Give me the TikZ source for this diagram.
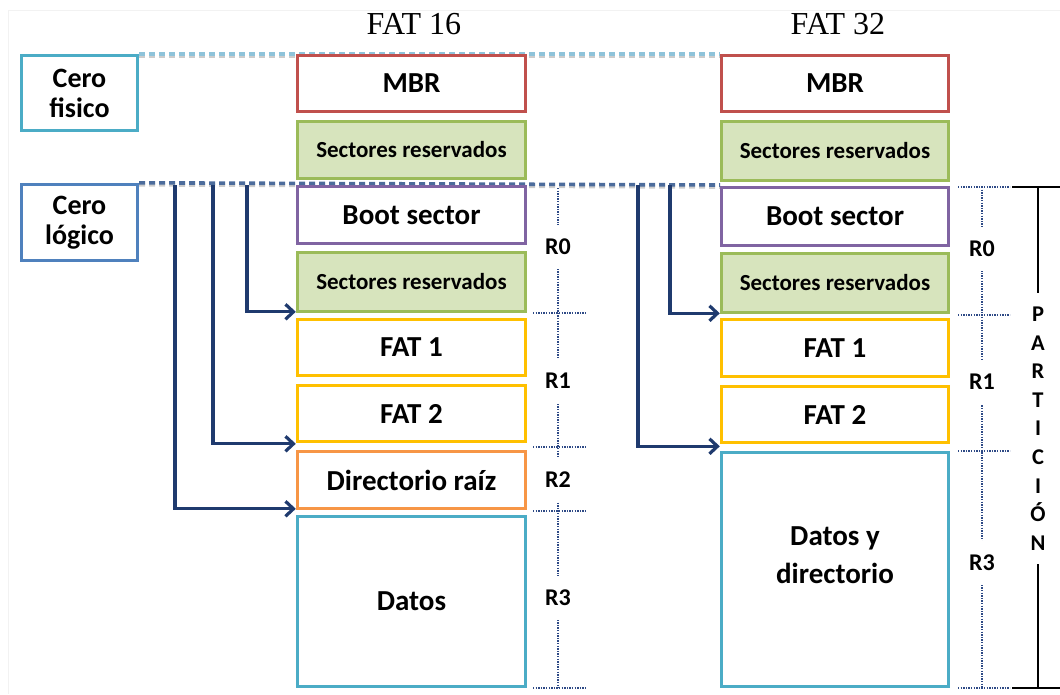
\documentclass[tikz,border=0pt]{standalone}
\usepackage{fontspec}
\setmainfont{Carlito}
\newfontfamily\titlefont{Liberation Serif}
\usetikzlibrary{arrows.meta,calc}
\definecolor{mbrred}{HTML}{C0504D}
\definecolor{resgreen}{HTML}{9BBB59}
\definecolor{resfill}{HTML}{D7E4BD}
\definecolor{bootpurple}{HTML}{8064A2}
\definecolor{fatyellow}{HTML}{FFC000}
\definecolor{dirorange}{HTML}{F79646}
\definecolor{datateal}{HTML}{4BACC6}
\definecolor{logblue}{HTML}{4F81BD}
\definecolor{navy}{HTML}{1F3A6E}
\definecolor{rnavy}{HTML}{2E4A86}
\definecolor{dashlight}{HTML}{8EC3DA}
\definecolor{dashdark}{HTML}{4C6C9C}
\begin{document}
\begin{tikzpicture}[x=1pt,y=-1pt,
  blk/.style={draw, line width=3.4pt, fill=white, inner sep=0pt, text=black,
    font=\bfseries\fontsize{29}{31}\selectfont},
  resblk/.style={blk, draw=resgreen, fill=resfill, font=\bfseries\fontsize{23}{25}\selectfont},
  colA/.style={minimum width=228pt},
  colB/.style={minimum width=227pt},
  zerobox/.style={draw, line width=3.4pt, fill=white, minimum width=116pt, minimum height=75pt,
    align=center, inner sep=0pt, font=\bfseries\fontsize{28}{30}\selectfont},
  headtext/.style={font=\titlefont\fontsize{32}{34}\selectfont},
  guide/.style={line width=3.6pt, dash pattern=on 6pt off 4pt,
    preaction={draw=black!20, line width=3.6pt, dash pattern=on 6pt off 4pt, transform canvas={yshift=-2pt}}},
  arr/.style={draw=navy, line width=3.2pt, -{Straight Barb[length=8pt,width=15pt]}},
  rline/.style={draw=rnavy, line width=2.2pt, dash pattern=on 1.4pt off 1.2pt},
  rlab/.style={fill=white, inner xsep=2pt, inner ysep=0pt, minimum height=44pt,
    font=\bfseries\fontsize{24}{26}\selectfont},
  partlab/.style={align=center, inner xsep=2pt, inner ysep=14pt,
    font=\bfseries\fontsize{22.5}{28.6}\selectfont}]
\useasboundingbox (0,0) rectangle (1060,694);

% faint page frame
\draw[black!5, line width=1pt] (8,694) -- (8,10) -- (1060,10);

% column headings
\node[headtext] (h16) at (414,24) {FAT 16};
\node[headtext] (h32) at (838,24) {FAT 32};

% reference zero points
\node[zerobox, draw=datateal] (cf) at (79.5,93) {Cero\\fisico};
\node[zerobox, draw=logblue, minimum height=76pt] (cl) at (79.5,222.5) {Cero\\lógico};

% guide lines from the zero points
\draw[guide, draw=dashlight] (cf.north east) -- (cf.north east -| 720,0);
\coordinate (clend) at (720,185);
\draw[guide, draw=dashdark] (cl.north east) -- (clend);

% FAT 16 layout
\node[blk, colA, draw=mbrred, minimum height=56pt] (mbrA) at (411.5,83.5) {MBR};
\node[resblk, colA, minimum height=57pt] (resA1) at (411.5,150) {Sectores reservados};
\node[blk, colA, draw=bootpurple, minimum height=57pt] (bootA) at (411.5,215) {Boot sector};
\node[resblk, colA, minimum height=59pt] (resA2) at (411.5,282) {Sectores reservados};
\node[blk, colA, draw=fatyellow, minimum height=56pt] (fat1A) at (411.5,347.5) {FAT 1};
\node[blk, colA, draw=fatyellow, minimum height=56pt] (fat2A) at (411.5,413.5) {FAT 2};
\node[blk, colA, draw=dirorange, minimum height=57pt] (dirA) at (411.5,480) {Directorio raíz};
\node[blk, colA, draw=datateal, minimum height=170pt] (datA) at (411.5,601.5) {Datos};

% FAT 32 layout
\node[blk, colB, draw=mbrred, minimum height=56pt] (mbrB) at (835,83.5) {MBR};
\node[resblk, colB, minimum height=59pt] (resB1) at (835,151) {Sectores reservados};
\node[blk, colB, draw=bootpurple, minimum height=58pt] (bootB) at (835,216.5) {Boot sector};
\node[resblk, colB, minimum height=59pt] (resB2) at (835,283) {Sectores reservados};
\node[blk, colB, draw=fatyellow, minimum height=57pt] (fat1B) at (835,348) {FAT 1};
\node[blk, colB, draw=fatyellow, minimum height=56pt] (fat2B) at (835,414.5) {FAT 2};
\node[blk, colB, draw=datateal, minimum height=234pt] (datB) at (835,569.5) {};
\node[align=center, font=\bfseries\fontsize{29}{38}\selectfont] (datBtxt) at (835,555) {Datos y\\directorio};

% offsets measured from the logical zero
\coordinate (la1) at (247,185);
\coordinate (la2) at (213,185);
\coordinate (la3) at (175,185);
\coordinate (lb1) at (670,185);
\coordinate (lb2) at (638,185);
\draw[arr] (la1) |- ([yshift=6pt]fat1A.north west);
\draw[arr] (la2) |- ([yshift=6pt]dirA.north west);
\draw[arr] (la3) |- ([yshift=6pt]datA.north west);
\draw[arr] (lb1) |- ([yshift=4.5pt]fat1B.north west);
\draw[arr] (lb2) |- ([yshift=4.5pt]datB.north west);

% FAT 16 regions
\coordinate (ra0) at (558,188);
\coordinate (ra4) at (558,688);
\draw[rline] (ra0) -- (ra4);
\draw[rline] (533,313) -- (587,313);
\draw[rline] (533,447) -- (587,447);
\draw[rline] (533,511) -- (587,511);
\draw[rline] (533,688) -- (587,688);
\node[rlab] (r0a) at (558,247) {R0};
\node[rlab] (r1a) at (558,381) {R1};
\node[rlab] (r2a) at (558,480) {R2};
\node[rlab] (r3a) at (558,598) {R3};

% FAT 32 regions
\coordinate (rb0) at (982,187);
\coordinate (rb4) at (982,688);
\draw[rline] (rb0) -- (rb4);
\draw[rline] (958,187) -- (1010,187);
\draw[rline] (958,315) -- (1010,315);
\draw[rline] (958,451) -- (1010,451);
\draw[rline] (958,688) -- (1010,688);
\node[rlab] (r0b) at (982,249) {R0};
\node[rlab] (r1b) at (982,382) {R1};
\node[rlab] (r3b) at (982,563) {R3};

% partition bracket
\node[partlab] (part) at (1038,428.5) {P\\A\\R\\T\\I\\C\\I\\Ó\\N};
\coordinate (ptop) at (1038,187);
\coordinate (pbot) at (1038,688);
\draw[line width=1.8pt] (1012,187) -- (1060,187);
\draw[line width=1.8pt] (1012,688) -- (1060,688);
\draw[line width=1.8pt] (ptop) -- (part.north);
\draw[line width=1.8pt] (part.south) -- (pbot);
\end{tikzpicture}
\end{document}
